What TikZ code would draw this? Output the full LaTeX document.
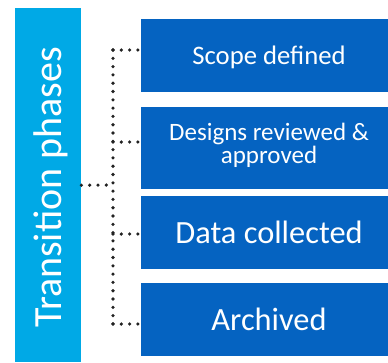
\documentclass[tikz,border=0pt]{standalone}
\usepackage{fontspec}
\setmainfont{Carlito}
\definecolor{barblue}{HTML}{00A9E6}
\definecolor{boxblue}{HTML}{0563C1}
\definecolor{dotc}{HTML}{222222}
\begin{document}
\begin{tikzpicture}[x=1pt,y=-1pt,
  phase/.style={rectangle, fill=boxblue, minimum width=247pt, inner sep=0pt, anchor=north west},
  phasetext/.style={text=white, inner sep=0pt, anchor=base},
  dotline/.style={draw=dotc, line width=3.6pt, line cap=round, dash pattern=on 0pt off 8.3pt}]
\useasboundingbox (0,0) rectangle (388,362);
\node[fill=barblue, minimum width=66pt, minimum height=354pt, inner sep=0pt, anchor=north west] (bar) at (15,8) {};
\node[text=white, rotate=90, anchor=base, inner sep=0pt, font=\fontsize{40}{48}\selectfont] (bt) at (61,187.5) {Transition phases};
\node[phase, minimum height=73pt] (b1) at (141,19) {};
\node[phase, minimum height=82pt] (b2) at (141,107) {};
\node[phase, minimum height=73pt] (b3) at (141,196) {};
\node[phase, minimum height=73pt] (b4) at (141,283) {};
\node[phasetext, font=\fontsize{26.7}{30}\selectfont] (t1) at (269,64) {Scope defined};
\node[phasetext, align=center, font=\fontsize{25}{23}\selectfont] (t2) at (269,163) {Designs reviewed \&\\approved};
\node[phasetext, font=\fontsize{32.4}{36}\selectfont] (t3) at (269,243) {Data collected};
\node[phasetext, font=\fontsize{32.4}{36}\selectfont] (t4) at (269,330) {Archived};
\coordinate (j) at (113,185);
\coordinate (top) at (113,50);
\coordinate (bot) at (113,324);
\coordinate (k2) at (113,142);
\coordinate (k3) at (113,234);
\draw[dotline] (bar.east) -- (j);
\draw[dotline] (top) -- (bot);
\draw[dotline] (top) -- (top -| b1.west);
\draw[dotline] (k2) -- (k2 -| b2.west);
\draw[dotline] (k3) -- (k3 -| b3.west);
\draw[dotline] (bot) -- (bot -| b4.west);
\end{tikzpicture}
\end{document}
